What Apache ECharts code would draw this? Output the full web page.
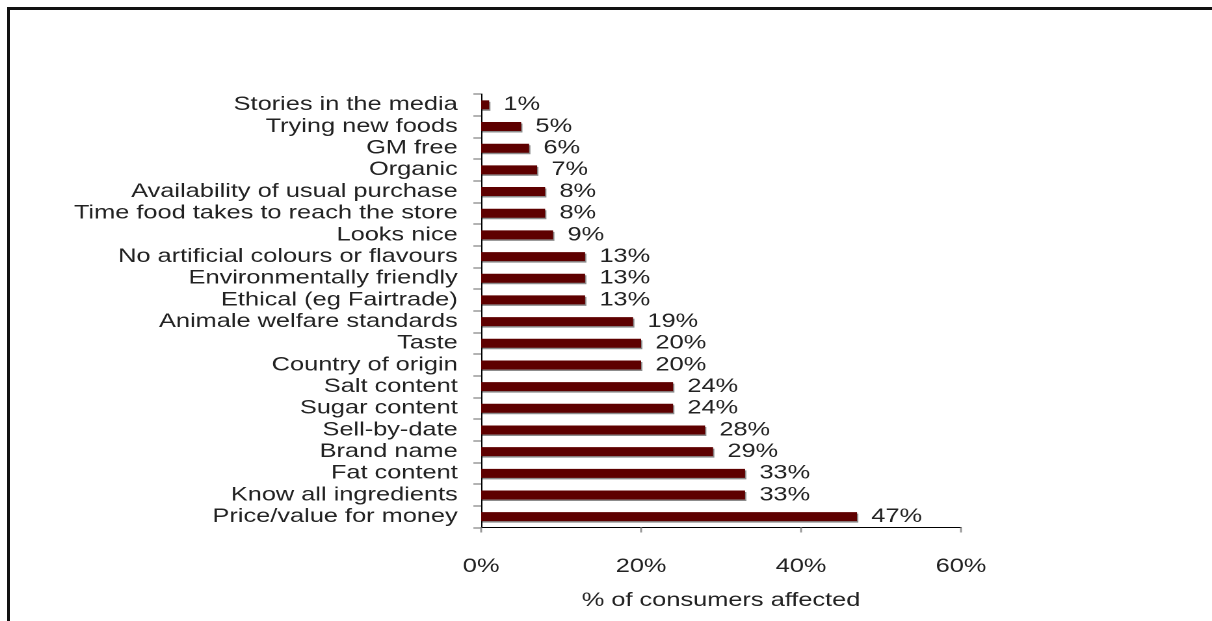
<!DOCTYPE html>
<html>
<head>
<meta charset="utf-8">
<title>Factors affecting food purchase</title>
<script src="https://cdn.jsdelivr.net/npm/echarts@6/dist/echarts.min.js"></script>
<style>
  html, body { margin: 0; padding: 0; background: #fff; overflow: hidden; width: 1212px; height: 621px; }
  #frame {
    position: absolute; left: 7px; top: 7px; width: 1300px; height: 700px;
    border-left: 3px solid #111; border-top: 3px solid #111; box-sizing: border-box;
  }
  /* chart is laid out narrower and widened horizontally, giving the wide lettering */
  #chart {
    position: absolute; left: 0; top: 0; width: 932px; height: 621px;
    transform: scaleX(1.3004); transform-origin: 0 0;
  }
</style>
</head>
<body>
<div id="frame"></div>
<div id="chart"></div>
<script>
// Factors listed from top to bottom
const categories = [
  'Stories in the media',
  'Trying new foods',
  'GM free',
  'Organic',
  'Availability of usual purchase',
  'Time food takes to reach the store',
  'Looks nice',
  'No artificial colours or flavours',
  'Environmentally friendly',
  'Ethical (eg Fairtrade)',
  'Animale welfare standards',
  'Taste',
  'Country of origin',
  'Salt content',
  'Sugar content',
  'Sell-by-date',
  'Brand name',
  'Fat content',
  'Know all ingredients',
  'Price/value for money'
];

// % of consumers affected by each factor
const consumersAffected = [1, 5, 6, 7, 8, 8, 9, 13, 13, 13, 19, 20, 20, 24, 24, 28, 29, 33, 33, 47];

const xAxisName = '% of consumers affected';
const xTicks = [0, 20, 40, 60];

const fontFamily = '"Liberation Sans", Arial, Helvetica, sans-serif';
const textColor = '#222';
const fontSize = 19.5;

const chart = echarts.init(document.getElementById('chart'), null, { renderer: 'canvas', devicePixelRatio: 2 });

chart.setOption({
  backgroundColor: 'transparent',
  animation: false,
  textStyle: { fontFamily: fontFamily },
  grid: { left: 370, right: 193, top: 94, bottom: 93.5, containLabel: false },
  xAxis: {
    type: 'value',
    min: xTicks[0],
    max: xTicks[xTicks.length - 1],
    interval: xTicks[1] - xTicks[0],
    name: xAxisName,
    nameLocation: 'middle',
    nameGap: 63,
    nameTextStyle: { color: textColor, fontSize: fontSize, fontFamily: fontFamily },
    axisLine: { show: true, lineStyle: { color: '#000', width: 1 } },
    axisTick: { show: true, length: 5, lineStyle: { color: '#999', width: 1.5 } },
    axisLabel: { color: textColor, fontSize: fontSize, margin: 29, formatter: '{value}%' },
    splitLine: { show: false }
  },
  yAxis: {
    type: 'category',
    data: categories,
    inverse: true,
    axisLine: { show: true, lineStyle: { color: '#000', width: 1 } },
    axisTick: { show: true, length: 6, lineStyle: { color: '#999', width: 1.5 } },
    axisLabel: { color: textColor, fontSize: fontSize, margin: 18, interval: 0, hideOverlap: false },
    splitLine: { show: false }
  },
  series: [{
    type: 'bar',
    data: consumersAffected,
    barWidth: 9,
    itemStyle: {
      color: '#5e0000',
      shadowColor: 'rgba(0,0,0,0.45)',
      shadowOffsetX: 1,
      shadowOffsetY: 1.5,
      shadowBlur: 0
    },
    label: {
      show: true,
      position: 'right',
      distance: 11,
      color: textColor,
      fontSize: fontSize,
      formatter: '{c}%'
    }
  }]
});
</script>
</body>
</html>
